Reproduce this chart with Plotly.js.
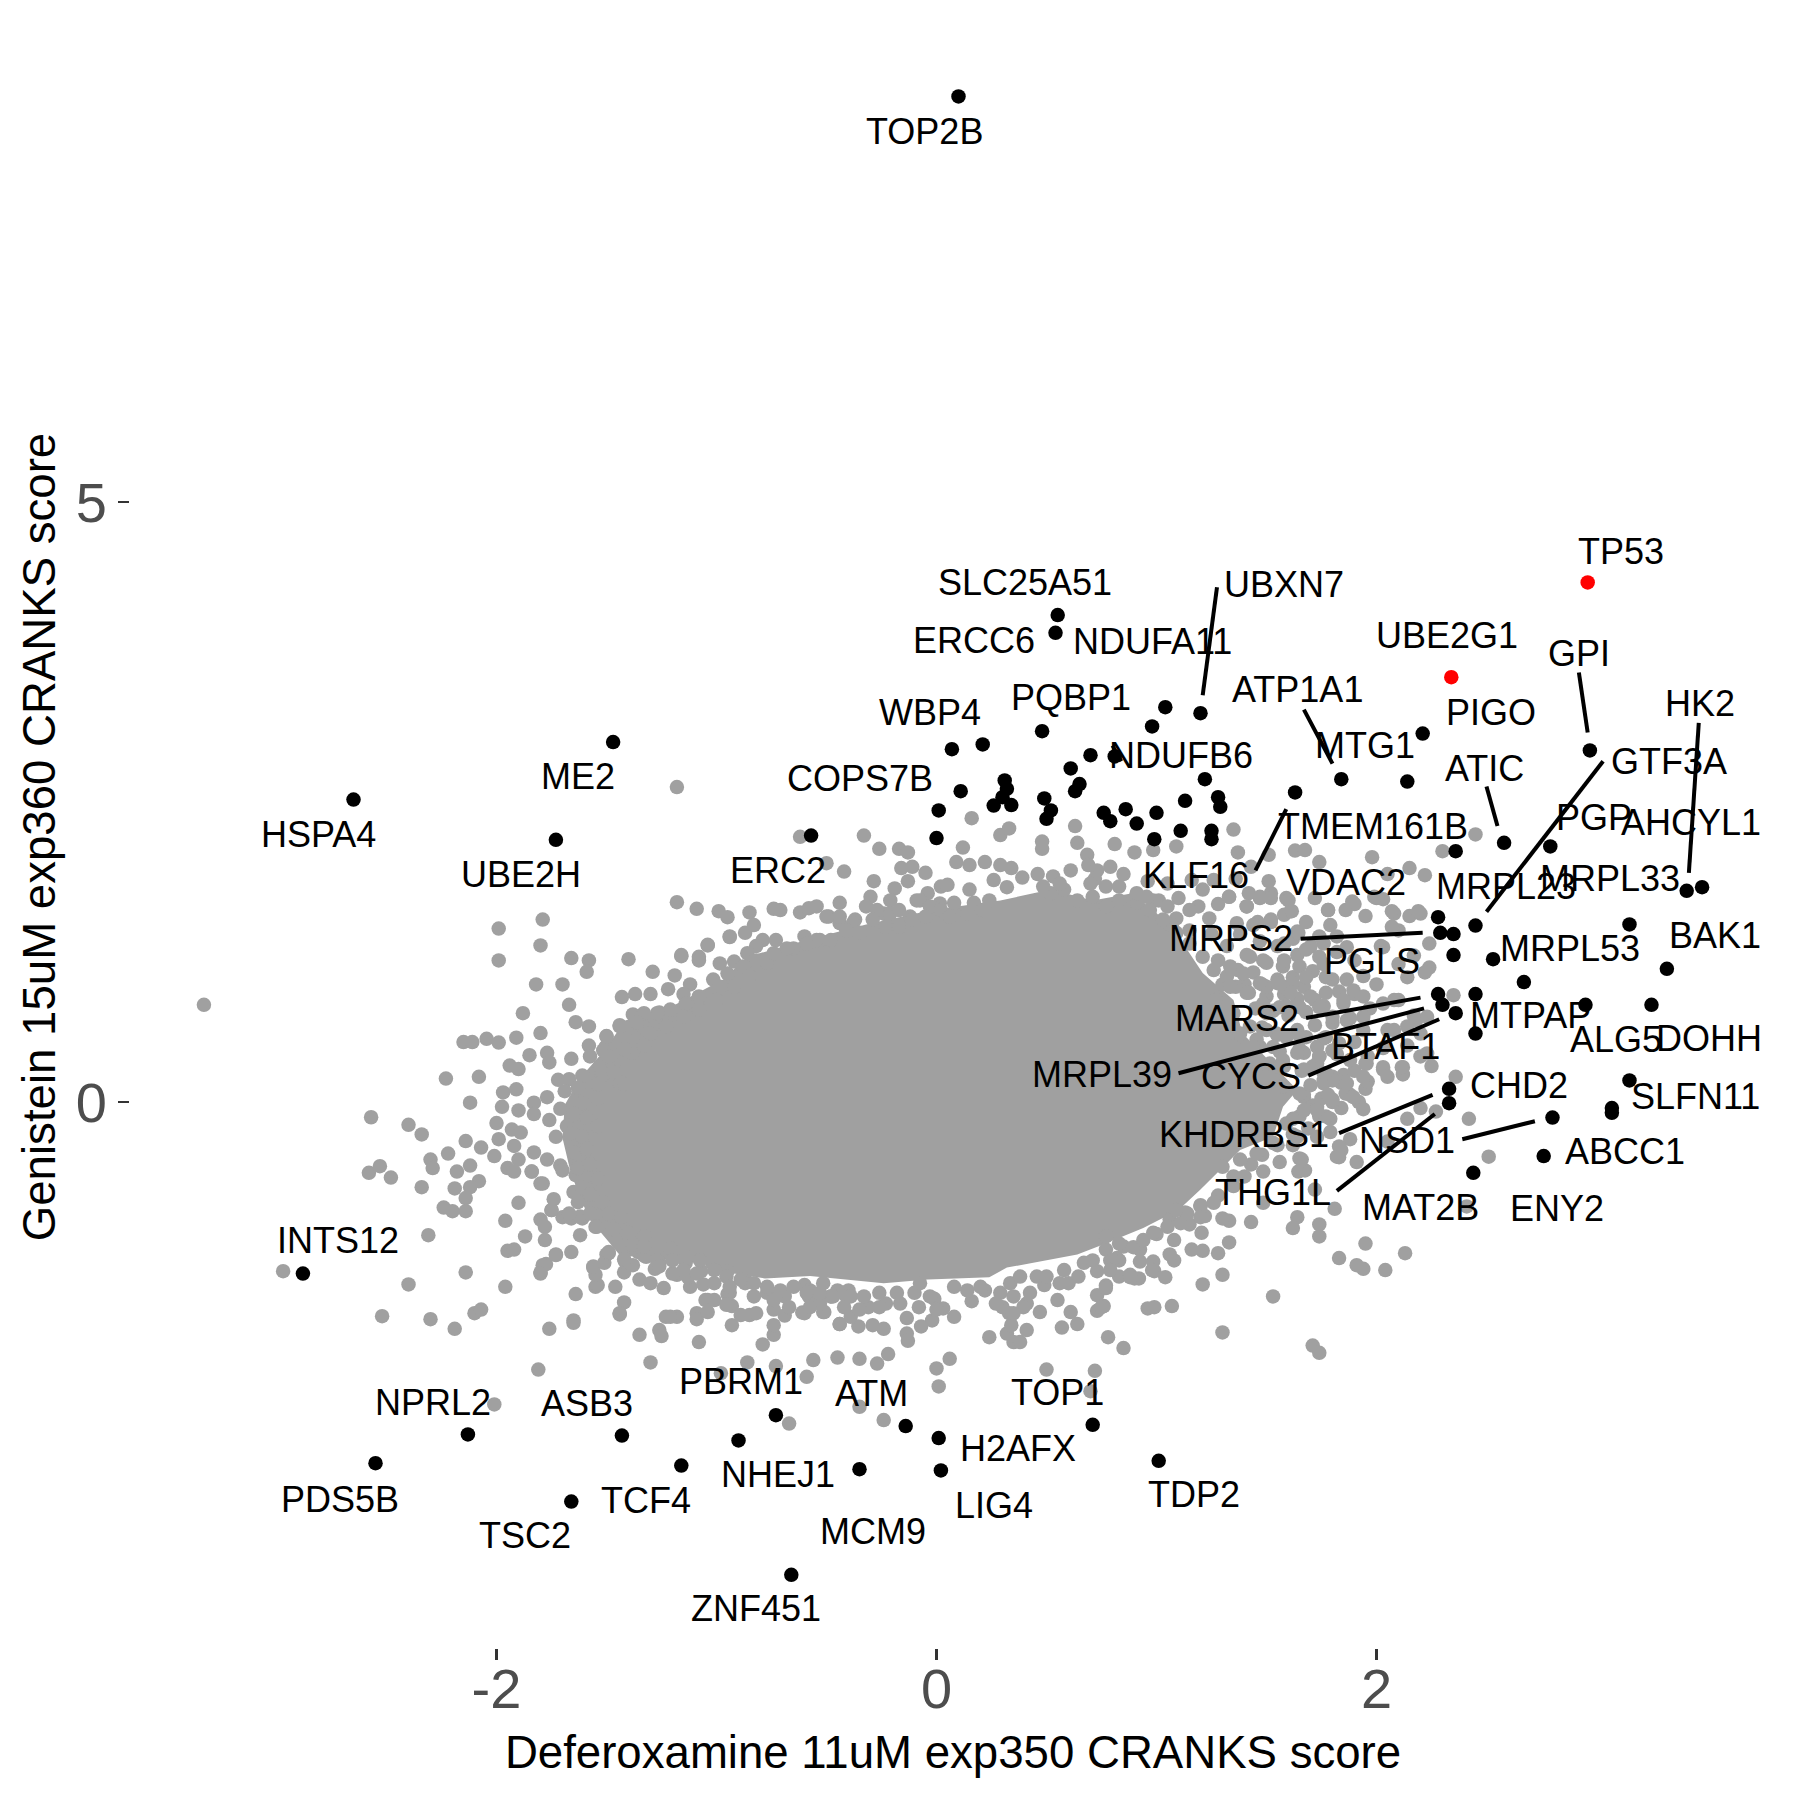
<!DOCTYPE html>
<html><head><meta charset="utf-8">
<script src="https://cdn.plot.ly/plotly-3.0.1.min.js"></script>
<style>html,body{margin:0;padding:0;background:#fff}</style></head>
<body><div id="chart" style="width:1800px;height:1800px"></div>
<script>
// The saturated centre of the cloud, where single points cannot be told apart, is an outline read from the picture.
const denseCoreOutline = [[-1.70,-.3],[-1.69,-.025],[-1.62,.2],[-1.51,.43],[-1.415,.68],[-1.21,.79],[-.97,1.02],[-.86,1.21],[-.59,1.35],[-.32,1.48],[-.02,1.60],[.29,1.68],[.52,1.77],[.71,1.68],[.89,1.74],[1.00,1.575],[1.11,1.35],[1.21,1.075],[1.35,.85],[1.39,.575],[1.64,.10],[1.575,-.04],[1.53,-.29],[1.38,-.40],[1.32,-.51],[1.20,-.73],[1.10,-.90],[.94,-1.05],[.74,-1.2],[.64,-1.27],[.32,-1.38],[.24,-1.46],[-.04,-1.48],[-.24,-1.51],[-.575,-1.45],[-.78,-1.47],[-.95,-1.42],[-1.04,-1.35],[-1.18,-1.32],[-1.32,-1.3],[-1.44,-1.275],[-1.575,-.98],[-1.62,-.8],[-1.665,-.57]];

const grayLeft = [[-3.33,.81],[-1.18,2.625],[-1.18,1.665],[-1.09,1.61],[-.99,1.59],[-.95,1.54],[-1.99,1.445],[-1.79,1.52],[-1.80,1.305],[-1.99,1.18],[-1.66,1.20],[-1.58,1.18],[-1.59,1.085],[-1.40,1.19],[-1.29,1.085],[-1.16,1.215],[-.94,1.375],[-1.04,1.305],[-1.08,1.21],[-1.19,1.055],[-1.82,.98],[-1.70,.98],[-1.67,.81],[-1.43,.875],[-1.37,.90],[-1.30,.90],[-1.22,.94],[-1.12,.98],[-1.15,.90],[-1.88,.74],[-1.64,.665],[-1.58,.63],[-1.38,.73],[-1.26,.745],[-1.33,.62],[-2.15,.50],[-2.11,.50],[-2.045,.527],[-1.99,.495],[-1.91,.536],[-1.80,.575],[-1.44,.64],[-1.40,.615],[-1.94,.304],[-1.90,.275],[-1.85,.39],[-1.77,.41],[-1.76,.33],[-1.66,.36],[-1.58,.47],[-1.505,.457],[-1.50,.55],[-2.23,.195],[-2.08,.21],[-1.72,.185],[-1.67,.19],[-1.69,.09],[-1.53,.30],[-1.52,.22],[-1.61,.22],[-1.97,.08],[-1.91,.106],[-1.975,-.04],[-2.12,-.006],[-1.83,-.006],[-1.83,-.10],[-1.77,.04],[-1.71,-.057],[-1.90,-.07],[-2.57,-.127],[-2.40,-.19],[-2.34,-.27],[-2.00,-.175],[-1.93,-.23],[-1.89,-.255],[-1.99,-.31],[-1.92,-.366],[-2.14,-.325],[-2.07,-.38],[-2.22,-.43],[-2.01,-.45],[-2.30,-.48],[-2.29,-.55],[-2.12,-.53],[-2.18,-.58],[-2.58,-.59],[-2.53,-.535],[-2.48,-.63],[-1.95,-.55],[-1.90,-.48],[-1.92,-.58],[-1.84,-.58],[-1.83,-.42],[-1.77,-.48],[-1.71,-.53],[-1.64,-.61],[-1.76,-.15],[-1.68,-.20],[-1.73,-.29],[-1.79,-.68],[-2.08,-.66],[-2.12,-.71],[-2.19,-.72],[-2.34,-.71],[-2.14,-.80],[-1.90,-.84],[-1.65,-.75],[-1.74,-.81],[-1.75,-.90],[-2.24,-.88],[-2.20,-.91],[-2.14,-.91],[-1.70,-.96],[-1.66,-.97],[-1.61,-.97],[-1.55,-1.04],[-1.80,-.98],[-1.96,-.99],[-1.78,-1.04],[-1.78,-1.15],[-1.87,-1.12],[-1.62,-1.11],[-2.31,-1.11],[-1.95,-1.24],[-1.92,-1.23],[-1.66,-1.25],[-1.50,-1.27],[-1.73,-1.27],[-1.775,-1.35],[-1.80,-1.42],[-2.14,-1.42],[-2.97,-1.41],[-2.40,-1.52],[-1.96,-1.54],[-1.64,-1.60],[-1.56,-1.38],[-1.55,-1.54],[-1.46,-1.54],[-1.42,-1.42],[-1.42,-1.67],[-1.35,-1.48],[-1.30,-1.51],[-1.24,-1.55],[-1.18,-1.44],[-1.12,-1.54],[-1.06,-1.52],[-2.52,-1.785],[-2.30,-1.81],[-2.10,-1.76],[-2.07,-1.73],[-1.44,-1.76],[-1.23,-1.79],[-1.18,-1.79],[-1.65,-1.82],[-1.04,-1.65],[-.95,-1.60],[-.93,-1.70]];

const grayBottom = [[-2.19,-1.89],[-1.76,-1.89],[-1.65,-1.84],[-1.81,-2.23],[-2.01,-2.52],[-1.30,-2.17],[-1.73,-1.275],[-1.79,-1.36],[-1.80,-1.43],[-1.54,-1.525],[-1.55,-1.44],[-1.56,-1.37],[-1.51,-1.34],[-1.49,-1.26],[-1.416,-1.33],[-1.38,-1.36],[-1.355,-1.25],[-1.44,-1.77],[-1.35,-1.94],[-1.26,-1.90],[-1.25,-1.95],[-1.21,-1.79],[-1.09,-1.76],[-1.09,-1.81],[-1.04,-1.75],[-1.05,-1.65],[-1.01,-1.65],[-1.08,-2.00],[-.93,-1.86],[-.89,-1.775],[-.85,-1.775],[-.82,-1.76],[-.79,-2.02],[-.74,-1.94],[-.74,-1.86],[-.69,-1.78],[-.74,-1.73],[-.61,-1.755],[-.515,-1.75],[-.44,-1.85],[-.86,-2.17],[-.73,-2.20],[-.98,-2.26],[-.59,-2.29],[-.56,-2.15],[-.45,-2.13],[-.67,-2.68],[-1.13,-1.46],[-1.20,-1.43],[-.94,-1.59],[-.955,-1.69],[-.77,-1.59],[-.69,-1.62],[-.58,-1.62],[-.48,-1.62],[-.87,-1.51],[-.60,-1.525],[-1.28,-1.39],[-1.32,-1.29],[-1.545,-1.04],[-1.62,-.955],[-1.67,-.93],[-1.75,-.90],[-1.47,-.955],[-1.70,-.57],[-1.80,-.68],[-1.84,-.58],[-1.40,-1.11],[-.35,-2.14],[-.27,-2.18],[-.22,-2.10],[0,-2.22],[.06,-2.14],[.01,-2.37],[-.35,-2.54],[-.24,-2.65],[.50,-2.23],[.72,-2.24],[.70,-2.41],[.85,-2.05],[.78,-1.96],[.24,-1.96],[.32,-1.93],[.35,-2.00],[.38,-2.00],[.41,-1.90],[.34,-1.86],[.57,-1.88],[.64,-1.85],[.61,-1.75],[.47,-1.75],[.73,-1.74],[.76,-1.70],[.73,-1.61],[.77,-1.53],[.83,-1.455],[.90,-1.47],[.88,-1.44],[.79,-1.32],[.82,-1.30],[.99,-1.41],[.925,-1.33],[.60,-1.51],[.645,-1.455],[.73,-1.41],[.55,-1.65],[.49,-1.525],[.41,-1.68],[.33,-1.76],[.29,-1.59],[.16,-1.66],[.08,-1.54],[.08,-1.79],[.03,-1.72],[-.02,-1.82],[-.07,-1.87],[-.135,-1.80],[-.135,-1.93],[-.13,-1.99],[-.24,-1.89],[-.29,-1.86],[-.355,-1.87],[-.39,-1.79],[-.44,-1.85],[-.51,-1.75],[-.60,-1.76],[-.48,-1.62],[-.31,-1.71],[-.23,-1.68],[-.08,-1.71],[-.40,-1.57],[-.01,-1.64],[.22,-1.57],[.96,-1.72]];

const grayRight = [[2.36,.21],[2.42,-.14],[2.51,-.456],[2.41,-.87],[2.13,-1.26],[2.04,-1.40],[1.95,-1.18],[1.94,-1.39],[1.91,-1.36],[1.83,-1.30],[1.74,-1.02],[1.74,-1.12],[1.64,-.96],[1.62,-1.05],[1.81,-.89],[1.43,-1.0],[1.33,-1.17],[1.28,-1.26],[1.30,-1.44],[1.21,-1.52],[1.53,-1.62],[1.30,-1.92],[1.71,-2.03],[1.74,-2.09],[1.07,-1.70],[.99,-1.71],[1.21,-1.24],[1.16,-1.23],[1.04,-1.46],[.92,-1.47],[1.08,-1.32],[1.06,-1.27],[.985,-1.33],[.98,-1.40],[.83,-1.32],[1.205,-1.09],[1.08,-1.15],[1.33,-.99],[1.30,-.97],[1.65,-.47],[1.675,-.57],[1.56,-.50],[1.485,-.58],[1.485,-.84],[1.72,-.73],[1.82,-.456],[1.84,-.40],[1.88,-.31],[1.91,-.50],[2.05,-.33],[2.14,-.14],[2.20,-.05],[2.27,-.08],[1.79,-.25],[1.79,-.14],[1.74,-.12],[1.84,-.05],[1.92,0],[1.95,.11],[1.96,.17],[2.03,.27],[2.12,.29],[2.12,.23],[1.95,.32],[2.23,.405],[1.85,.225],[1.75,.03],[1.67,.04],[1.73,.32],[1.62,-.27],[.77,-1.55],[.75,-1.71],[1.25,1.40],[1.32,1.30],[1.28,1.18],[1.37,1.10],[1.44,1.08],[1.48,.98],[1.55,1.02],[1.62,1.04],[1.40,.98],[1.30,.98],[1.50,.88],[1.58,.90],[1.64,.86],[1.45,.78],[1.53,.76],[1.60,.72],[1.68,.75],[1.76,.80],[1.90,.90],[1.97,.78],[1.88,.70],[1.80,.66],[1.72,.64],[1.64,.60],[1.55,.56],[1.48,.62],[1.47,.46],[1.56,.42],[1.65,.44],[1.74,.38],[1.82,.40],[1.90,.50],[1.96,.38],[2.03,.45],[2.08,.60],[1.58,.30],[1.66,.26],[1.76,.24],[1.84,.16],[1.90,.26],[1.70,.14],[1.78,.06],[1.88,.06],[1.94,-.06],[1.71,-.03],[1.62,-.14],[1.69,-.22],[1.62,-.36],[1.55,-.36],[1.48,-.44],[1.43,-.52],[1.40,-.62],[1.35,-.70],[1.28,-.78],[1.20,-.86],[1.13,-.92],[1.06,-.98],[1.00,-1.10],[1.15,-1.02],[1.22,-.95],[2.24,1.12],[2.14,1.04],[2.35,.89],[2.10,.85],[2.17,.72],[2.20,.57],[2.14,.47],[2.25,.30],[2.00,.98],[1.94,1.05],[1.90,1.18],[1.82,1.25]];

const grayTop = [[.16,2.365],[.29,2.225],[.33,2.28],[.12,2.12],[.48,2.17],[.48,2.11],[.63,2.30],[.64,2.16],[.81,2.15],[.90,2.08],[.985,2.10],[1.09,2.13],[1.35,2.27],[1.37,2.08],[1.51,2.06],[1.63,2.095],[1.675,2.10],[1.74,2.00],[1.51,1.84],[1.43,1.96],[.09,2.00],[.15,1.975],[.22,2.00],[.29,1.975],[.34,1.95],[.39,1.87],[.46,1.90],[.26,1.85],[.32,1.79],[.15,1.77],[.53,1.88],[.61,1.93],[.685,2.06],[.69,1.975],[.73,1.93],[.79,1.96],[.85,1.90],[.72,1.86],[.985,1.68],[1.01,1.68],[1.21,1.77],[1.33,1.71],[1.28,1.65],[1.19,1.63],[1.15,1.60],[1.41,1.63],[1.47,1.70],[1.52,1.74],[1.59,1.70],[1.61,1.59],[1.78,1.60],[1.79,1.475],[1.64,1.42],[1.52,1.52],[1.46,1.50],[1.09,1.53],[1.07,1.475],[1.76,1.32],[1.70,1.295],[1.41,1.225],[1.64,1.225],[1.485,1.18],[1.575,1.13],[1.71,1.09],[1.80,1.02],[1.83,.92],[1.76,1.15],[1.72,.85],[1.67,.96],[1.85,.82],[1.76,.53],[1.83,.49],[1.73,.46],[1.67,.06],[1.80,0],[1.73,-.04],[1.83,-.37],[1.83,-.46],[1.66,-.48],[1.645,-.58],[1.06,1.48],[1.15,1.43],[1.24,1.53],[1.38,1.40],[1.47,1.34],[1.55,1.30],[1.62,1.36],[1.68,1.50],[1.10,1.70],[1.16,1.85],[1.05,1.82],[.96,1.84],[1.26,1.85],[1.36,1.86],[1.42,1.74],[1.58,1.56],[1.72,1.70],[1.86,1.60],[1.95,1.55],[2.00,1.70],[2.10,1.43],[2.15,1.55],[2.24,1.32],[2.17,1.22],[2.10,1.15],[2.22,1.08],[2.02,1.30],[2.45,2.23],[2.30,2.09],[1.98,2.04],[2.15,1.95],[2.22,1.89],[2.05,1.90],[2.20,1.57],[2.08,1.57],[1.90,1.65],[2.03,1.69],[-.62,2.21],[-.50,1.99],[-.42,1.92],[-.33,2.22],[-.26,2.11],[-.17,2.11],[-.13,2.08],[-.16,1.95],[-.11,1.96],[-.05,1.91],[-.285,1.84],[-.19,1.78],[-.13,1.84],[.02,1.795],[.05,1.81],[-.85,1.58],[-.74,1.61],[-.71,1.60],[-.62,1.58],[-.58,1.615],[-.545,1.63],[-.44,1.66],[-.49,1.545],[-.30,1.71],[-.21,1.68],[-.04,1.74],[-.075,1.68],[.015,1.655],[-.94,1.38],[-1.04,1.31],[-.83,1.475],[-.87,1.41],[-1.16,1.225],[-1.08,1.18],[-.985,1.155],[-.92,1.17],[-.79,1.35],[-.73,1.35],[-.65,1.28],[-.60,1.38],[-.53,1.35],[-.48,1.35],[-.44,1.49],[-.37,1.52],[-.77,1.16],[-.24,1.57],[-.12,1.545]];

const grayRingUpper = [[-.50,1.545],[-.44,1.545],[-.38,1.49],[-.32,1.63],[-.27,1.60],[-.21,1.57],[-.17,1.60],[-.09,1.68],[-.03,1.63],[.02,1.60],[.08,1.66],[.17,1.66],[.24,1.68],[-.41,1.43],[-.35,1.41],[-.29,1.52],[-.23,1.46],[-.17,1.46],[-.11,1.52],[-.05,1.545],[.06,1.545],[.14,1.57],[.21,1.60],[-.545,1.35],[-.59,1.32],[-.68,1.28],[-.74,1.24],[-.82,1.30],[-.86,1.24],[-.82,1.18],[-.88,1.13],[-.95,1.07],[-1.015,1.02],[-.985,.96],[-1.08,.88],[-1.14,.82],[-1.21,.77],[-1.27,.74],[-1.33,.74],[-1.36,.66],[-1.44,.63],[-1.50,.545],[-1.515,.43],[-1.47,.32],[-1.515,.24],[-1.44,.16],[-1.38,.41],[-1.30,.57],[-1.23,.63],[-1.15,.71],[-1.08,.77],[-1.0,.85],[-.92,.96],[-.85,1.05],[.52,1.74],[.58,1.77],[.64,1.68],[.71,1.71],[.77,1.63],[.83,1.68],[.91,1.66],[.97,1.60],[1.03,1.52],[1.09,1.41],[1.15,1.32],[1.21,1.21],[1.26,1.10],[1.32,1.045],[1.36,.96],[1.42,.91],[1.50,.96],[1.58,.96],[.485,1.795],[.56,1.82],[.70,1.82],[.77,1.795],[.83,1.795],[.91,1.74],[.955,1.71],[1.05,1.63],[1.58,1.32],[1.27,.85],[1.35,.74],[1.38,.57],[1.455,.52],[1.545,.57],[1.64,.57],[1.50,.74],[1.59,.80],[1.425,.35],[1.515,.32],[1.575,.35],[1.67,.41],[1.71,.295],[1.76,.18],[1.575,.13],[1.80,.21],[1.65,-.12],[1.77,-.12],[1.64,-.29],[1.73,-.29]];

const grayRingLower = [[-1.49,.38],[-1.575,.38],[-1.42,.44],[-1.33,.47],[-1.47,.25],[-1.54,.15],[-1.63,.12],[-1.42,.15],[-1.61,-.01],[-1.54,.03],[-1.645,-.10],[-1.59,-.13],[-1.66,-.26],[-1.61,-.29],[-1.54,-.20],[-1.645,-.42],[-1.59,-.39],[-1.63,-.55],[-1.575,-.52],[-1.54,-.64],[-1.61,-.71],[-1.575,-.77],[-1.63,-.835],[-1.52,-.835],[-1.575,-.93],[-1.49,-.93],[-1.435,-.96],[-1.47,-1.06],[-1.40,-1.09],[-1.38,-1.19],[-1.33,-1.12],[-1.49,-1.25],[-1.42,-1.31],[-1.33,-1.28],[-1.26,-1.34],[-1.21,-1.22],[-1.14,-1.34],[-1.07,-1.41],[-1.02,-1.34],[-.95,-1.41],[-.86,-1.50],[-1.33,-1.205],[-1.27,-1.32],[-1.20,-1.32],[-1.135,-1.29],[-1.075,-1.32],[-1.01,-1.40],[-.955,-1.455],[-.89,-1.48],[-.83,-1.51],[-.77,-1.54],[-.71,-1.57],[-.65,-1.54],[-.575,-1.57],[-.515,-1.51],[-.45,-1.57],[-.41,-1.62],[-1.09,-1.43],[-1.15,-1.40],[-1.26,-1.37],[-1.01,-1.51],[-.94,-1.54],[-.83,-1.62],[-.74,-1.65],[-.67,-1.71],[-.53,-1.68],[-.42,-1.71],[-.59,-1.59],[-.53,-1.59],[-.47,-1.62],[-.39,-1.62],[-.33,-1.62],[-.26,-1.59],[-.18,-1.59],[-.10,-1.59],[-.03,-1.62],[-.575,-1.71],[-.35,-1.73],[-.26,-1.71],[-.165,-1.68],[0,-1.73],[-.075,-1.51],[.14,-1.57],[.20,-1.54],[.30,-1.71],[.35,-1.62],[.395,-1.71],[.335,-1.51],[.38,-1.455],[.456,-1.455],[.50,-1.455],[.58,-1.40],[.67,-1.34],[.71,-1.32],[.77,-1.23],[.85,-1.205],[.925,-1.23],[.56,-1.51],[.35,-1.76],[.27,-1.68],[.425,-1.59],[.77,-1.12],[.83,-1.18],[.895,-1.21],[.94,-1.15],[.985,-1.09],[1.05,-1.04],[1.11,-1.01],[1.14,-.93],[1.20,-.87],[1.26,-.84],[1.20,-.96],[1.09,-.90],[.80,-1.32],[.88,-1.46],[.79,-1.40],[1.30,-.54],[1.38,-.48],[1.35,-.62],[1.455,-.43],[1.53,-.34],[1.59,-.18],[1.67,-.07],[1.73,-.07],[1.80,.02],[1.86,.07],[1.65,.07],[1.76,.155],[1.80,.18],[1.865,.155],[1.895,.04]];

const grayRightDense = [[1.47,1.71],[1.52,1.70],[1.41,1.63],[1.33,1.71],[1.60,1.68],[1.615,1.59],[1.78,1.60],[1.89,1.67],[1.99,1.71],[2.07,1.59],[2.19,1.59],[2.07,1.46],[2.03,1.29],[1.365,1.49],[1.44,1.475],[1.52,1.50],[1.645,1.41],[1.68,1.27],[1.74,1.38],[1.74,1.21],[1.82,1.38],[1.865,1.29],[1.425,1.21],[1.50,1.16],[1.58,1.18],[1.65,1.13],[1.335,1.13],[1.395,1.07],[1.47,.99],[1.55,.99],[1.62,.99],[1.68,1.04],[1.77,1.04],[1.865,1.02],[1.895,.93],[1.94,.88],[1.85,.85],[1.77,.91],[1.70,.88],[1.61,.91],[1.335,.96],[1.41,.91],[1.485,.82],[1.56,.79],[1.65,.79],[1.74,.79],[1.80,.71],[1.865,.68],[1.94,.71],[2.03,.82],[2.08,.85],[2.18,.68],[2.23,.71],[1.94,.60],[2.05,.60],[2.14,.63],[1.77,.54],[1.68,.54],[1.59,.54],[1.50,.60],[1.425,.63],[1.335,.68],[1.35,.46],[1.44,.46],[1.53,.46],[1.64,.41],[1.74,.38],[1.80,.43],[1.88,.35],[1.955,.32],[2.03,.29],[2.115,.29],[2.2,.38],[1.67,.27],[1.56,.29],[1.47,.32],[1.77,.24],[1.94,.21],[2.05,.21]];

const blackPoints = [[.10,8.38],[.551,4.058],[.541,3.91],[1.04,3.29],[1.20,3.24],[.98,3.13],[.48,3.09],[.21,2.98],[.07,2.94],[.70,2.89],[.81,2.88],[.61,2.78],[1.22,2.69],[.31,2.68],[.32,2.61],[.65,2.65],[.63,2.59],[.11,2.59],[1.63,2.58],[.30,2.54],[.49,2.53],[1.13,2.51],[1.28,2.54],[1.29,2.46],[.26,2.47],[.34,2.475],[.52,2.43],[.50,2.36],[.01,2.43],[.76,2.41],[.79,2.34],[.86,2.44],[.91,2.32],[1.00,2.41],[1.11,2.26],[.99,2.19],[1.25,2.26],[1.25,2.19],[0,2.20],[-.57,2.22],[2.21,3.07],[2.97,2.93],[1.84,2.69],[2.14,2.67],[2.58,2.16],[2.79,2.13],[2.36,2.09],[3.41,1.76],[3.48,1.79],[3.15,1.48],[2.28,1.54],[2.45,1.47],[2.29,1.41],[2.35,1.40],[2.35,1.225],[2.53,1.19],[3.32,1.11],[2.67,1.00],[2.28,.90],[2.45,.90],[2.30,.81],[2.36,.74],[2.95,.81],[3.25,.81],[2.45,.57],[3.15,.18],[2.33,.11],[2.33,-.01],[3.07,-.05],[3.07,-.09],[2.80,-.13],[2.76,-.45],[2.44,-.59],[-1.47,3.0],[-2.65,2.52],[-1.73,2.185],[-2.88,-1.43],[-2.13,-2.77],[-2.55,-3.01],[-1.43,-2.78],[-1.66,-3.33],[-1.16,-3.03],[-.90,-2.82],[-.73,-2.61],[-.35,-3.06],[-.14,-2.70],[.01,-2.80],[.02,-3.07],[.71,-2.69],[1.01,-2.99],[-.66,-3.94]];

const redPoints = [[2.96,4.33],[2.34,3.54]];

const labelRows = [["TOP2B",-.055,8.09],["SLC25A51",.40,4.33],["ERCC6",.17,3.85],["NDUFA11",.98,3.84],["UBXN7",1.58,4.31],["TP53",3.11,4.59],["UBE2G1",2.32,3.89],["GPI",2.92,3.74],["HK2",3.47,3.32],["PIGO",2.52,3.25],["ATP1A1",1.64,3.44],["PQBP1",.61,3.37],["WBP4",-.03,3.25],["MTG1",1.95,2.97],["GTF3A",3.33,2.84],["NDUFB6",1.11,2.89],["ATIC",2.49,2.78],["ME2",-1.63,2.71],["COPS7B",-.35,2.70],["TMEM161B",1.985,2.30],["PGP",2.99,2.37],["AHCYL1",3.43,2.33],["HSPA4",-2.81,2.23],["ERC2",-.72,1.93],["KLF16",1.18,1.89],["UBE2H",-1.89,1.90],["VDAC2",1.86,1.83],["MRPL23",2.59,1.80],["MRPL33",3.06,1.86],["BAK1",3.54,1.39],["MRPS2",1.34,1.36],["MRPL53",2.88,1.28],["PGLS",1.98,1.17],["MARS2",1.365,.70],["MTPAP",2.70,.72],["ALG5",3.09,.52],["DOHH",3.51,.53],["BTAF1",2.04,.46],["MRPL39",.75,.23],["CYCS",1.43,.21],["CHD2",2.65,.14],["SLFN11",3.45,.05],["KHDRBS1",1.40,-.27],["NSD1",2.14,-.32],["ABCC1",3.13,-.41],["THG1L",1.53,-.75],["MAT2B",2.20,-.88],["ENY2",2.82,-.89],["INTS12",-2.72,-1.15],["PBRM1",-.89,-2.33],["ATM",-.295,-2.43],["TOP1",.55,-2.42],["NPRL2",-2.29,-2.50],["ASB3",-1.59,-2.51],["H2AFX",.37,-2.89],["NHEJ1",-.72,-3.10],["PDS5B",-2.71,-3.31],["TCF4",-1.32,-3.32],["LIG4",.26,-3.36],["TDP2",1.17,-3.27],["MCM9",-.29,-3.58],["TSC2",-1.87,-3.61],["ZNF451",-.82,-4.22]];

const leaderSegments = [[1.275,4.29,1.21,3.39],[1.67,3.27,1.80,2.82],[2.92,3.58,2.96,3.08],[3.465,3.16,3.42,1.91],[2.50,2.63,2.55,2.30],[3.03,2.84,2.50,1.585],[1.59,2.44,1.45,1.93],[.80,2.97,.84,2.84],[1.655,1.36,2.21,1.41],[1.68,.70,2.20,.87],[1.10,.24,2.216,.78],[1.69,.22,2.285,.69],[1.83,-.26,2.255,.06],[1.82,-.74,2.265,-.10],[2.39,-.31,2.72,-.16]];

const xTicks = [-2, 0, 2];
const yTicks = [0, 5];
const xTitle = "Deferoxamine 11uM exp350 CRANKS score";
const yTitle = "Genistein 15uM exp360 CRANKS score";

const GRAY = "#a0a0a0";
const FONT = "Liberation Sans, Arial, sans-serif";
const grayPoints = [...grayLeft, ...grayBottom, ...grayRight, ...grayTop, ...grayRingUpper, ...grayRingLower, ...grayRightDense];
const segX = [], segY = [];
leaderSegments.forEach(s => { segX.push(s[0], s[2], null); segY.push(s[1], s[3], null); });
const pts = (p, color) => ({type:"scatter", mode:"markers", x:p.map(d=>d[0]), y:p.map(d=>d[1]),
  marker:{size:14.5, color:color, line:{width:0}}, hoverinfo:"skip", showlegend:false});

const traces = [
  {type:"scatter", mode:"lines", x:denseCoreOutline.map(d=>d[0]), y:denseCoreOutline.map(d=>d[1]),
   fill:"toself", fillcolor:GRAY, line:{width:0, color:GRAY}, hoverinfo:"skip", showlegend:false},
  pts(grayPoints, GRAY),
  pts(blackPoints, "#000000"),
  pts(redPoints, "#ff0000"),
  {type:"scatter", mode:"lines", x:segX, y:segY, line:{color:"#000000", width:4}, hoverinfo:"skip", showlegend:false}
];

const layout = {
  width:1800, height:1800, paper_bgcolor:"#fff", plot_bgcolor:"#fff", showlegend:false,
  margin:{l:130, r:24, t:26, b:152},
  font:{family:FONT},
  xaxis:{range:[-3.666,3.816], tickmode:"array", tickvals:xTicks, ticktext:xTicks.map(String),
    showgrid:false, zeroline:false, showline:false, ticks:"outside", ticklen:11, tickwidth:2.6, tickcolor:"#333333",
    ticklabelstandoff:-19, tickfont:{size:56, color:"#4d4d4d", family:FONT},
    title:{text:xTitle, font:{size:45.6, color:"#000", family:FONT}, standoff:16}},
  yaxis:{range:[-4.55,8.967], tickmode:"array", tickvals:yTicks, ticktext:yTicks.map(String),
    showgrid:false, zeroline:false, showline:false, ticks:"outside", ticklen:11, tickwidth:2.6, tickcolor:"#333333",
    tickfont:{size:56, color:"#4d4d4d", family:FONT},
    title:{text:yTitle, font:{size:45.6, color:"#000", family:FONT}, standoff:5}},
  annotations: labelRows.map(r => ({x:r[1], y:r[2], xref:"x", yref:"y", text:r[0], showarrow:false,
    xanchor:"center", yanchor:"middle", font:{size:36, color:"#000", family:FONT}}))
};
Plotly.newPlot("chart", traces, layout, {displayModeBar:false, staticPlot:true});
</script></body></html>
